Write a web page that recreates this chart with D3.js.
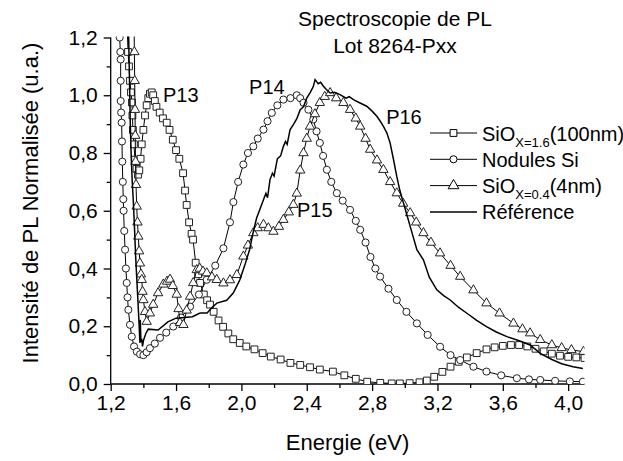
<!DOCTYPE html>
<html>
<head>
<meta charset="utf-8">
<script src="https://cdn.jsdelivr.net/npm/d3@7"></script>
<style>
  body { margin: 0; background: #fff; }
  svg { font-family: "Liberation Sans", Arial, sans-serif; }
</style>
</head>
<body>
<svg id="chart" width="623" height="461"></svg>
<script>
// SiOx=1.6 (100nm) - squares, P13
var sio16Data = [
  [1.29,1.40],[1.300,1.25],[1.306,1.15],[1.312,1.10],[1.318,1.05],[1.324,1.01],[1.330,0.975],[1.333,0.93],
  [1.336,0.88],[1.342,0.83],[1.349,0.777],[1.358,0.745],[1.367,0.725],[1.375,0.74],[1.383,0.78],[1.39,0.83],
  [1.40,0.88],[1.41,0.93],[1.42,0.965],[1.43,0.99],[1.44,1.005],[1.451,1.01],[1.46,1.0],[1.47,0.98],
  [1.48,0.96],[1.50,0.94],[1.52,0.92],[1.543,0.905],[1.56,0.88],[1.58,0.846],[1.60,0.81],[1.62,0.78],
  [1.643,0.73],[1.655,0.67],[1.665,0.62],[1.68,0.56],[1.695,0.52],[1.704,0.50],[1.72,0.42],[1.735,0.38],
  [1.747,0.35],[1.77,0.31],[1.79,0.29],[1.808,0.275],[1.83,0.25],[1.86,0.22],[1.888,0.198],[1.92,0.175],
  [1.95,0.155],[1.99,0.142],[2.03,0.13],[2.08,0.12],[2.13,0.107],[2.18,0.095],[2.24,0.085],[2.30,0.073],
  [2.36,0.066],[2.42,0.058],[2.48,0.05],[2.56,0.043],[2.63,0.03],[2.70,0.018],[2.77,0.008],[2.85,0.004],
  [2.92,0.002],[2.97,0.002],[3.03,0.003],[3.09,0.006],[3.135,0.012],[3.18,0.025],[3.23,0.042],[3.28,0.06],
  [3.33,0.077],[3.38,0.092],[3.44,0.107],[3.50,0.12],[3.55,0.127],[3.60,0.132],[3.65,0.135],[3.70,0.135],
  [3.75,0.13],[3.80,0.122],[3.85,0.113],[3.90,0.105],[3.95,0.098],[4.00,0.094],[4.05,0.092],[4.10,0.09]
];

// Nodules Si - circles, P14
var nodulesData = [
  [1.255,1.20],[1.259,1.15],[1.261,1.124],[1.261,1.05],[1.261,0.98],[1.264,0.94],[1.267,0.905],[1.269,0.84],
  [1.271,0.77],[1.274,0.70],[1.277,0.64],[1.279,0.60],[1.283,0.53],[1.288,0.465],[1.293,0.40],[1.298,0.35],
  [1.303,0.30],[1.308,0.257],[1.318,0.205],[1.329,0.164],[1.343,0.13],[1.36,0.112],[1.38,0.103],[1.40,0.10],
  [1.42,0.11],[1.44,0.124],[1.47,0.14],[1.502,0.16],[1.54,0.178],[1.583,0.199],[1.63,0.23],[1.686,0.268],
  [1.74,0.31],[1.788,0.361],[1.84,0.41],[1.89,0.47],[1.93,0.56],[1.951,0.63],[1.98,0.70],[2.012,0.76],
  [2.04,0.80],[2.073,0.823],[2.10,0.85],[2.135,0.881],[2.16,0.91],[2.186,0.939],[2.22,0.965],[2.257,0.985],
  [2.30,0.99],[2.339,1.0],[2.36,0.99],[2.38,0.974],[2.41,0.95],[2.44,0.916],[2.46,0.875],[2.48,0.835],
  [2.50,0.79],[2.523,0.742],[2.55,0.70],[2.584,0.661],[2.62,0.635],[2.665,0.603],[2.70,0.565],[2.727,0.534],
  [2.76,0.49],[2.79,0.44],[2.82,0.40],[2.849,0.372],[2.90,0.33],[2.951,0.291],[3.01,0.25],[3.074,0.21],
  [3.14,0.17],[3.216,0.129],[3.28,0.10],[3.339,0.083],[3.42,0.06],[3.50,0.043],[3.59,0.03],[3.686,0.02],
  [3.76,0.016],[3.829,0.014],[3.92,0.011],[4.01,0.009],[4.09,0.008]
];

// SiOx=0.4 (4nm) - triangles, P15
var sio04Data = [
  [1.340,1.40],[1.343,1.25],[1.345,1.15],[1.347,1.05],[1.349,0.95],[1.350,0.86],[1.352,0.77],[1.355,0.69],
  [1.359,0.615],[1.364,0.56],[1.369,0.511],[1.374,0.46],[1.379,0.418],[1.385,0.38],[1.39,0.361],[1.395,0.32],
  [1.40,0.291],[1.41,0.25],[1.42,0.216],[1.44,0.245],[1.46,0.275],[1.49,0.315],[1.522,0.345],[1.545,0.355],
  [1.563,0.362],[1.58,0.34],[1.604,0.31],[1.615,0.26],[1.624,0.212],[1.645,0.205],[1.665,0.255],[1.686,0.303],
  [1.705,0.35],[1.727,0.395],[1.745,0.40],[1.765,0.39],[1.788,0.384],[1.82,0.37],[1.849,0.361],[1.89,0.349],
  [1.93,0.36],[1.972,0.378],[2.012,0.442],[2.04,0.48],[2.073,0.523],[2.10,0.54],[2.135,0.552],[2.165,0.54],
  [2.196,0.528],[2.23,0.545],[2.257,0.569],[2.29,0.595],[2.318,0.621],[2.339,0.66],[2.36,0.74],[2.38,0.80],
  [2.40,0.85],[2.42,0.892],[2.45,0.935],[2.48,0.974],[2.51,0.995],[2.543,1.008],[2.58,0.99],[2.624,0.974],
  [2.665,0.95],[2.70,0.92],[2.727,0.892],[2.76,0.85],[2.788,0.812],[2.83,0.775],[2.869,0.742],[2.91,0.70],
  [2.951,0.661],[2.99,0.625],[3.033,0.592],[3.07,0.56],[3.114,0.523],[3.16,0.49],[3.216,0.453],[3.28,0.41],
  [3.339,0.372],[3.42,0.325],[3.50,0.28],[3.58,0.245],[3.665,0.21],[3.72,0.19],[3.767,0.176],[3.829,0.153],
  [3.90,0.135],[3.96,0.125],[4.02,0.118],[4.094,0.112]
];

// Référence - plain line, P16
var referenceData = [
  [1.305,1.40],[1.310,1.20],[1.315,1.05],[1.320,0.90],[1.326,0.78],[1.332,0.70],[1.338,0.638],[1.345,0.55],
  [1.352,0.45],[1.36,0.36],[1.37,0.25],[1.379,0.142],[1.381,0.222],[1.385,0.15],[1.39,0.153],[1.395,0.13],
  [1.40,0.15],[1.415,0.175],[1.43,0.19],[1.49,0.187],[1.55,0.215],[1.60,0.228],[1.65,0.23],[1.70,0.233],
  [1.747,0.246],[1.79,0.246],[1.82,0.265],[1.85,0.28],[1.91,0.29],[1.95,0.315],[1.97,0.337],[1.99,0.36],
  [2.02,0.41],[2.05,0.465],[2.07,0.52],[2.093,0.575],[2.11,0.60],[2.135,0.638],[2.15,0.66],[2.16,0.645],
  [2.175,0.708],[2.19,0.73],[2.20,0.72],[2.22,0.78],[2.24,0.79],[2.257,0.823],[2.27,0.84],[2.28,0.83],
  [2.298,0.881],[2.32,0.90],[2.34,0.92],[2.36,0.95],[2.38,0.96],[2.40,0.99],[2.42,1.008],[2.44,1.03],
  [2.451,1.054],[2.47,1.04],[2.485,1.045],[2.502,1.031],[2.52,1.02],[2.543,1.008],[2.57,1.01],[2.604,1.002],
  [2.64,0.99],[2.66,0.995],[2.686,0.985],[2.72,0.975],[2.767,0.962],[2.80,0.945],[2.829,0.927],[2.85,0.91],
  [2.869,0.892],[2.89,0.87],[2.91,0.835],[2.93,0.78],[2.951,0.719],[2.97,0.67],[2.992,0.627],[3.033,0.546],
  [3.074,0.465],[3.114,0.43],[3.15,0.37],[3.196,0.326],[3.24,0.305],[3.278,0.291],[3.33,0.265],[3.38,0.245],
  [3.44,0.22],[3.50,0.199],[3.56,0.18],[3.625,0.164],[3.70,0.15],[3.767,0.135],[3.829,0.106],[3.90,0.085],
  [3.96,0.07],[4.03,0.06],[4.09,0.054]
];

var xTicks = [1.2, 1.6, 2.0, 2.4, 2.8, 3.2, 3.6, 4.0];
var xMinorTicks = [1.4, 1.8, 2.2, 2.6, 3.0, 3.4, 3.8];
var yTicks = [0, 0.2, 0.4, 0.6, 0.8, 1.0, 1.2];
var yMinorTicks = [0.1, 0.3, 0.5, 0.7, 0.9, 1.1];

var peakLabels = [
  { text: "P13", x: 1.52, y: 0.975 },
  { text: "P14", x: 2.047, y: 1.006 },
  { text: "P15", x: 2.34, y: 0.579 },
  { text: "P16", x: 2.886, y: 0.902 }
];

var svg = d3.select("#chart");
var plotLeft = 110.7, plotRight = 584.5, plotTop = 37.5, plotBottom = 384;

var x = d3.scaleLinear().domain([1.2, 4.1]).range([plotLeft, plotRight]);
var y = d3.scaleLinear().domain([0, 1.2]).range([plotBottom, plotTop]);
var fmt = function (d) { return d3.format(".1f")(d).replace(".", ","); };

// clip the curves to the plotting area
svg.append("clipPath").attr("id", "plotClip")
  .append("rect")
  .attr("x", plotLeft).attr("y", plotTop - 1)
  .attr("width", plotRight - plotLeft).attr("height", plotBottom - plotTop + 1);

// axes
var xAxis = svg.append("g").attr("transform", "translate(0," + plotBottom + ")")
  .call(d3.axisBottom(x).tickValues(xTicks).tickFormat(fmt).tickSize(7).tickPadding(4));
svg.append("g").attr("transform", "translate(0," + plotBottom + ")")
  .call(d3.axisBottom(x).tickValues(xMinorTicks).tickFormat("").tickSize(4))
  .select(".domain").remove();

var yAxis = svg.append("g").attr("transform", "translate(" + plotLeft + ",0)")
  .call(d3.axisLeft(y).tickValues(yTicks).tickFormat(fmt).tickSize(7).tickPadding(6));
svg.append("g").attr("transform", "translate(" + plotLeft + ",0)")
  .call(d3.axisLeft(y).tickValues(yMinorTicks).tickFormat("").tickSize(4))
  .select(".domain").remove();

svg.selectAll(".tick text").attr("font-size", 21).attr("font-family", "Liberation Sans, Arial, sans-serif").attr("fill", "#000");
svg.selectAll(".domain, .tick line").attr("stroke", "#000").attr("stroke-width", 1.3);
xAxis.select(".domain").attr("d", "M" + plotLeft + ",0H" + plotRight);
yAxis.select(".domain").attr("d", "M0," + plotBottom + "V" + plotTop);

// series
var line = d3.line().x(function (d) { return x(d[0]); }).y(function (d) { return y(d[1]); });
var plot = svg.append("g").attr("clip-path", "url(#plotClip)");

var series = [
  { data: sio16Data, symbol: d3.symbolSquare, size: 46 },
  { data: nodulesData, symbol: d3.symbolCircle, size: 40 },
  { data: sio04Data, symbol: d3.symbolTriangle, size: 38 },
  { data: referenceData, symbol: null, size: 0 }
];

series.forEach(function (s) {
  plot.append("path")
    .datum(s.data)
    .attr("d", line)
    .attr("fill", "none")
    .attr("stroke", "#000")
    .attr("stroke-width", s.symbol ? 1 : 1.5);
  if (s.symbol) {
    plot.append("g")
      .selectAll("path")
      .data(s.data)
      .join("path")
      .attr("transform", function (d) { return "translate(" + x(d[0]) + "," + y(d[1]) + ")"; })
      .attr("d", d3.symbol().type(s.symbol).size(s.size))
      .attr("fill", "#fff")
      .attr("stroke", "#222")
      .attr("stroke-width", 1);
  }
});

// peak labels
svg.append("g").selectAll("text")
  .data(peakLabels)
  .join("text")
  .attr("x", function (d) { return x(d.x); })
  .attr("y", function (d) { return y(d.y); })
  .attr("font-size", 20)
  .text(function (d) { return d.text; });

// title
svg.append("text").attr("x", 395).attr("y", 26).attr("text-anchor", "middle")
  .attr("font-size", 21).text("Spectroscopie de PL");
svg.append("text").attr("x", 395).attr("y", 53).attr("text-anchor", "middle")
  .attr("font-size", 21).text("Lot 8264-Pxx");

// axis titles
svg.append("text").attr("x", (plotLeft + plotRight) / 2).attr("y", 450).attr("text-anchor", "middle")
  .attr("font-size", 22).text("Energie (eV)");
svg.append("text").attr("transform", "translate(38,203) rotate(-90)").attr("text-anchor", "middle")
  .attr("font-size", 22).text("Intensité de PL Normalisée (u.a.)");

// legend
var legendItems = [
  { main: "SiO", sub: "X=1.6", rest: "(100nm)", symbol: d3.symbolSquare, size: 46 },
  { main: "Nodules Si", sub: "", rest: "", symbol: d3.symbolCircle, size: 40 },
  { main: "SiO", sub: "X=0.4", rest: "(4nm)", symbol: d3.symbolTriangle, size: 50 },
  { main: "Référence", sub: "", rest: "", symbol: null, size: 0 }
];
var legend = svg.append("g");
legendItems.forEach(function (d, i) {
  var cy = 133 + i * 26.3;
  legend.append("line").attr("x1", 430).attr("x2", 477).attr("y1", cy).attr("y2", cy)
    .attr("stroke", "#000").attr("stroke-width", d.symbol ? 1 : 1.5);
  if (d.symbol) {
    legend.append("path").attr("transform", "translate(453.5," + cy + ")")
      .attr("d", d3.symbol().type(d.symbol).size(d.size))
      .attr("fill", "#fff").attr("stroke", "#000").attr("stroke-width", 1);
  }
  var t = legend.append("text").attr("x", 482).attr("y", cy + 7.5).attr("font-size", 20);
  t.append("tspan").text(d.main);
  if (d.sub) {
    t.append("tspan").attr("font-size", 13).attr("dy", 6).text(d.sub);
    t.append("tspan").attr("dy", -6).text(d.rest);
  }
});
</script>
</body>
</html>
